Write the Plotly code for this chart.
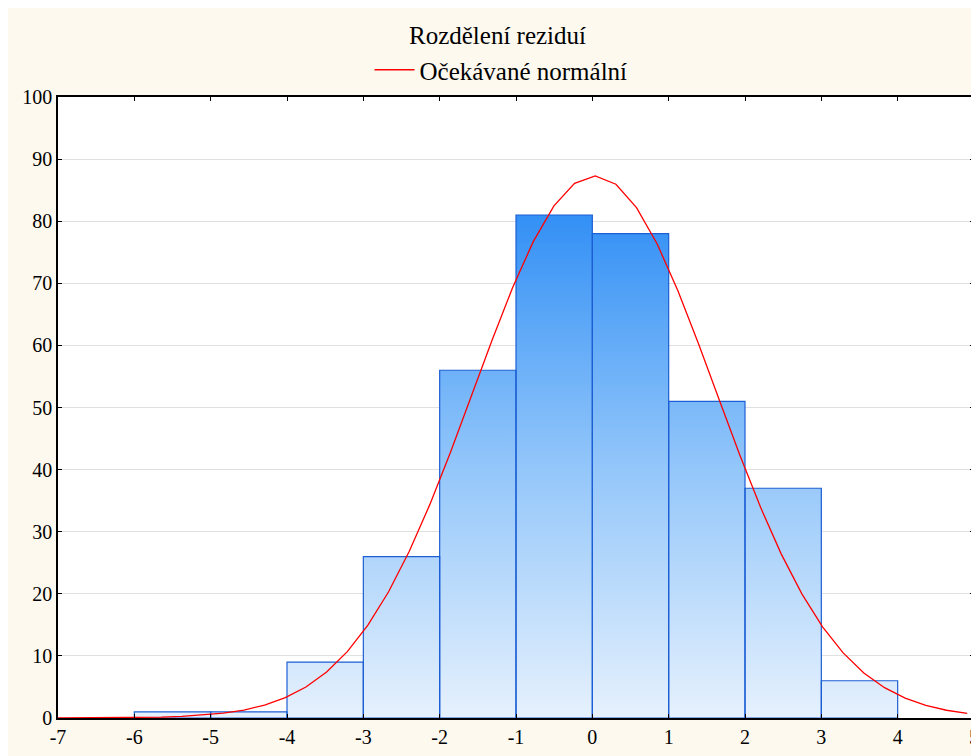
import plotly.graph_objects as go

# ---- data ----
bin_edges = [-6, -5, -4, -3, -2, -1, 0, 1, 2, 3, 4]
counts = [1, 1, 9, 26, 56, 81, 78, 51, 37, 6]

curve_x = [-7.000, -6.729, -6.459, -6.188, -5.917, -5.647, -5.376, -5.105, -4.834, -4.564,
           -4.293, -4.022, -3.752, -3.481, -3.210, -2.940, -2.669, -2.398, -2.128, -1.857,
           -1.586, -1.315, -1.045, -0.774, -0.503, -0.233, 0.038, 0.309, 0.579, 0.850,
           1.121, 1.391, 1.662, 1.933, 2.204, 2.474, 2.745, 3.016, 3.286, 3.557,
           3.828, 4.098, 4.369, 4.640, 4.911]
curve_y = [0.004, 0.009, 0.019, 0.038, 0.074, 0.14, 0.25, 0.45, 0.77, 1.28,
           2.08, 3.27, 4.99, 7.42, 10.69, 14.96, 20.33, 26.85, 34.40, 42.82,
           51.79, 60.80, 69.29, 76.71, 82.48, 86.10, 87.30, 85.95, 82.19, 76.32,
           68.81, 60.27, 51.25, 42.31, 33.93, 26.43, 19.99, 14.68, 10.48, 7.25,
           4.88, 3.19, 2.02, 1.25, 0.74]

title_text = "Rozdělení reziduí"
legend_text = "Očekávané normální"
x_ticks = list(range(-7, 6))
y_ticks = list(range(0, 101, 10))

FONT = "Liberation Serif, Times New Roman, serif"

# build bar polygons from the bin edges and counts
px, py = [], []
for i, c in enumerate(counts):
    x0, x1 = bin_edges[i], bin_edges[i + 1]
    px += [x0, x0, x1, x1, x0, None]
    py += [0, c, c, 0, 0, None]

fig = go.Figure()
fig.add_trace(go.Scatter(
    x=px, y=py, mode="lines", fill="toself",
    line=dict(color="#1c5fd4", width=1.2),
    fillgradient=dict(type="vertical", start=0, stop=max(counts),
                      colorscale=[[0, "#e6f1fd"], [0.5, "#93c6fa"], [1, "#3390f5"]]),
    showlegend=False, hoverinfo="skip",
))
fig.add_trace(go.Scatter(
    x=curve_x, y=curve_y, mode="lines", name=legend_text,
    line=dict(color="#ff0000", width=1.3),
))

W, H = 979, 756
ML, MR, MT, MB = 50, 13, 89, 46
plot_w = W - ML - MR
plot_h = H - MT - MB
fig.update_layout(
    width=W, height=H,
    paper_bgcolor="#fdf9ef", plot_bgcolor="#ffffff",
    margin=dict(l=ML, r=MR, t=MT, b=MB, autoexpand=False),
    font=dict(family=FONT, size=20, color="#000000"),
    title=dict(text=title_text, x=0.5, xanchor="center", xref="container",
               y=1 - 27 / H, yanchor="middle", yref="container",
               font=dict(family=FONT, size=25)),
    showlegend=True,
    legend=dict(orientation="h", x=(493 - ML) / plot_w, xanchor="center",
                y=1 + 27 / plot_h, yanchor="middle",
                itemwidth=40,
                bgcolor="rgba(0,0,0,0)", font=dict(family=FONT, size=25)),
)
fig.update_xaxes(range=[-7, 5], tickvals=x_ticks, ticktext=[str(v) for v in x_ticks],
                 showgrid=False, zeroline=False, showline=True, linecolor="#000000",
                 linewidth=1.5, mirror="allticks", ticks="inside", ticklen=4,
                 tickcolor="#000000", tickfont=dict(family=FONT, size=20), automargin=False)
fig.update_yaxes(range=[0, 100], tickvals=y_ticks, ticktext=[str(v) for v in y_ticks],
                 showgrid=True, gridcolor="#e0e0e0", gridwidth=1, zeroline=False,
                 showline=True, linecolor="#000000", linewidth=1.5, mirror="allticks",
                 ticks="inside", ticklen=4, tickcolor="#000000",
                 tickfont=dict(family=FONT, size=20), automargin=False)

fig.write_html("out.html")
